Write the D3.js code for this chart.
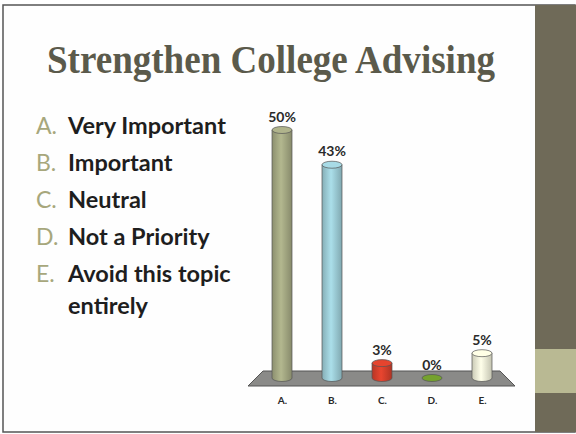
<!DOCTYPE html>
<html>
<head>
<meta charset="utf-8">
<script src="https://cdn.jsdelivr.net/npm/d3@7"></script>
<style>
  body { margin: 0; background: #fff; }
  svg { display: block; }
</style>
</head>
<body>
<div id="chart"></div>
<script>
// Data
const categories = ["A.", "B.", "C.", "D.", "E."];
const percents = [50, 43, 3, 0, 5];
const answers = ["Very Important", "Important", "Neutral", "Not a Priority", "Avoid this topic"];
const barColors = ["#a7ab85", "#9fd0da", "#d9402c", "#6f9a2c", "#f2f2da"];
const title = "Strengthen College Advising";

let width = 576, height = 434;

let svg = d3.select('#chart')
    .append('svg')
    .attr('width', width)
    .attr('height', height)

// slide background + border
svg.append('rect')
    .attr('x', 3).attr('y', 5)
    .attr('width', 572).attr('height', 427)
    .attr('fill', '#fefefe')
    .attr('stroke', '#555', )
    .attr('stroke-width', 1.5)

// right side band
svg.append('rect')
    .attr('x', 535).attr('y', 5)
    .attr('width', 41).attr('height', 427)
    .attr('fill', '#6f6a58')
svg.append('rect')
    .attr('x', 535).attr('y', 349)
    .attr('width', 41).attr('height', 44)
    .attr('fill', '#b9b993')

// title
svg.append('text')
    .attr('x', 47)
    .attr('y', 73)
    .attr('textLength', 448)
    .attr('lengthAdjust', 'spacingAndGlyphs')
    .style('font-family', '"Liberation Serif", serif')
    .style('font-weight', 'bold')
    .style('font-size', '39px')
    .style('fill', '#5b5a4b')
    .text(title)

// answer list
const list = svg.append('g')
answers.forEach((a, i) => {
    let y = 134 + i * 37;
    list.append('text')
        .attr('x', 36).attr('y', y)
        .style('font-family', 'Lato, sans-serif')
        .style('font-size', '23px')
        .style('fill', '#a7a77c')
        .text(categories[i])
    list.append('text')
        .attr('x', 68).attr('y', y)
        .style('font-family', 'Lato, sans-serif')
        .style('font-weight', 'bold')
        .style('font-size', '23.5px')
        .style('fill', '#1e1e1e')
        .text(a)
})
list.append('text')
    .attr('x', 68).attr('y', 134 + 4 * 37 + 32)
    .style('font-family', 'Lato, sans-serif')
    .style('font-weight', 'bold')
    .style('font-size', '23.5px')
    .style('fill', '#1e1e1e')
    .text('entirely')

// scales
let xScale = d3.scalePoint()
    .domain(categories)
    .range([282, 482])

let yScale = d3.scaleLinear()
    .domain([0, 50])
    .range([378, 130])

// floor
svg.append('path')
    .attr('d', 'M248,386 L263,371 L500,371 L515,386 Z')
    .attr('fill', '#8a8a88')
    .attr('stroke', '#555')
    .attr('stroke-width', 1)

// cylinder shading gradients
const defs = svg.append('defs')
barColors.forEach((c, i) => {
    let g = defs.append('linearGradient')
        .attr('id', 'cyl' + i)
        .attr('x1', '0%').attr('x2', '100%')
    g.append('stop').attr('offset', '0%').attr('stop-color', d3.color(c).darker(0.5))
    g.append('stop').attr('offset', '45%').attr('stop-color', d3.color(c).brighter(0.2))
    g.append('stop').attr('offset', '100%').attr('stop-color', d3.color(c).darker(0.6))
})

const rx = 10, ry = 3.5;
const bars = svg.selectAll('.bar')
    .data(categories)
    .enter().append('g')
    .attr('class', 'bar')

bars.each(function(d, i) {
    let g = d3.select(this);
    let cx = xScale(d);
    let yTop = yScale(percents[i]);
    let yBot = yScale(0);
    if (percents[i] > 0) {
        g.append('path')
            .attr('d', `M${cx - rx},${yTop} L${cx - rx},${yBot} A${rx},${ry} 0 0 0 ${cx + rx},${yBot} L${cx + rx},${yTop} Z`)
            .attr('fill', `url(#cyl${i})`)
            .attr('stroke', '#555')
            .attr('stroke-width', 0.7)
    }
    g.append('ellipse')
        .attr('cx', cx).attr('cy', yTop)
        .attr('rx', rx).attr('ry', ry)
        .attr('fill', d3.color(barColors[i]).brighter(0.15))
        .attr('stroke', '#555')
        .attr('stroke-width', 0.7)

    g.append('text')
        .attr('x', cx)
        .attr('y', yTop - ry - 5)
        .style('text-anchor', 'middle')
        .style('font-family', 'Lato, sans-serif')
        .style('font-size', '14px')
        .style('font-weight', 'bold')
        .style('fill', '#2a2a2a')
        .text(percents[i] + '%')
})

// category axis
let xAxis = svg.append('g')
    .attr('transform', 'translate(0, 392)')
    .call(d3.axisBottom(xScale).tickSize(0).tickPadding(5))
xAxis.select('.domain').remove()
xAxis.selectAll('text')
    .style('font-family', 'Lato, sans-serif')
    .style('font-size', '10px')
    .style('font-weight', 'bold')
    .style('fill', '#2a2a2a')
</script>
</body>
</html>
